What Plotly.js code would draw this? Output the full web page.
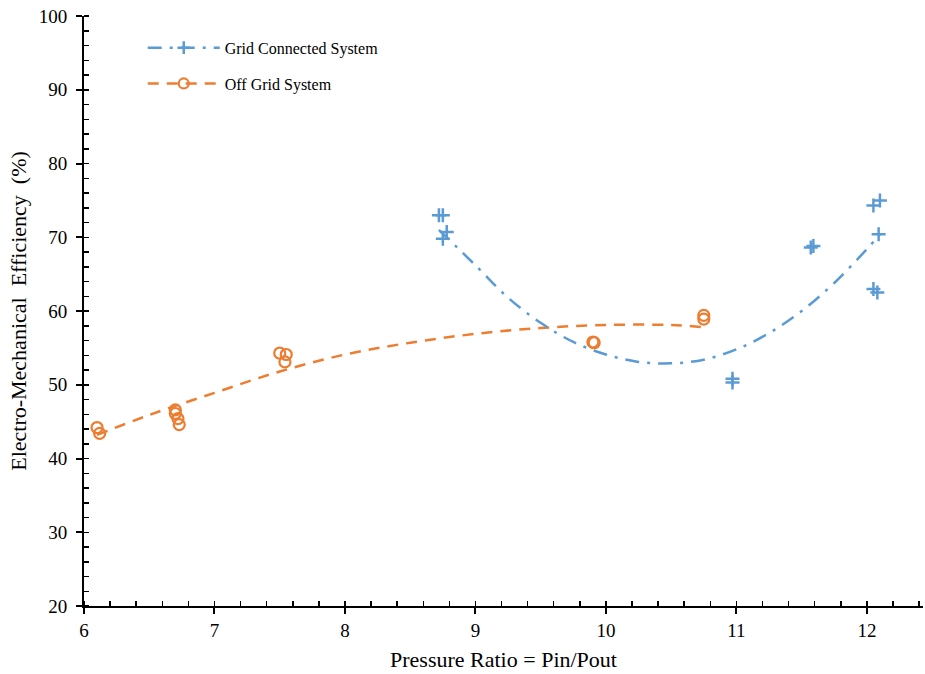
<!DOCTYPE html>
<html>
<head>
<meta charset="utf-8">
<script src="https://cdn.plot.ly/plotly-3.0.1.min.js"></script>
<style>html,body{margin:0;padding:0;background:#fff;}#chart{width:925px;height:674px;}</style>
</head>
<body>
<div id="chart"></div>
<script>
// Grid connected system: measured points
var gridX = [8.72, 8.75, 8.75, 8.78, 10.97, 10.97, 11.57, 11.59, 12.05, 12.10, 12.09, 12.05, 12.08];
var gridY = [73.0, 73.0, 69.8, 70.7, 50.8, 50.3, 68.6, 68.8, 74.3, 75.0, 70.4, 63.0, 62.5];
// Grid connected system: trend line
var gridFitX = [8.72, 9.0, 9.25, 9.5, 9.75, 10.0, 10.25, 10.5, 10.75, 11.0, 11.25, 11.5, 11.75, 12.0, 12.1];
var gridFitY = [71.0, 66.2, 61.8, 58.4, 55.8, 54.1, 53.1, 52.9, 53.4, 54.8, 57.0, 60.0, 63.8, 68.4, 70.4];

// Off grid system: measured points
var offX = [6.10, 6.12, 6.70, 6.70, 6.72, 6.73, 7.50, 7.55, 7.54, 9.90, 9.91, 10.75, 10.75];
var offY = [44.2, 43.4, 46.6, 46.1, 45.4, 44.6, 54.3, 54.1, 53.1, 55.8, 55.7, 59.4, 58.9];
// Off grid system: trend line
var offFitX = [6.1, 6.5, 7.0, 7.5, 8.0, 8.5, 9.0, 9.5, 10.0, 10.5, 10.75];
var offFitY = [43.2, 45.9, 48.9, 51.8, 54.1, 55.7, 56.9, 57.7, 58.1, 58.1, 57.8];

var seriesNames = ['Grid Connected System', 'Off Grid System'];
var xTicks = [6, 7, 8, 9, 10, 11, 12];
var yTicks = [20, 30, 40, 50, 60, 70, 80, 90, 100];

var blue = '#5b9bd5', orange = '#ed7d31';

var traces = [
  {x: offFitX, y: offFitY, mode: 'lines', line: {color: orange, width: 2.5, dash: '11px,8px', shape: 'spline'}, showlegend: false, hoverinfo: 'skip'},
  {x: gridFitX, y: gridFitY, mode: 'lines', line: {color: blue, width: 2.5, dash: '14px,8px,3px,8px', shape: 'spline'}, showlegend: false, hoverinfo: 'skip'},
  {x: gridX, y: gridY, mode: 'markers', marker: {symbol: 'cross-thin', size: 10, color: blue, line: {color: blue, width: 2.5}}, showlegend: false},
  {x: offX, y: offY, mode: 'markers', marker: {symbol: 'circle-open', size: 11, color: orange, line: {color: orange, width: 2.2}}, showlegend: false},
  {x: [null], y: [null], mode: 'lines+markers', name: seriesNames[0], legendgroup: 'g', line: {color: blue, width: 2.5, dash: '14px,8px,3px,8px'}, marker: {symbol: 'cross-thin', size: 9, color: blue, line: {color: blue, width: 2.5}}},
  {x: [null], y: [null], mode: 'lines+markers', name: seriesNames[1], legendgroup: 'o', line: {color: orange, width: 2.5, dash: '11px,8px'}, marker: {symbol: 'circle-open', size: 10, color: orange, line: {color: orange, width: 2.2}}}
];

var font = {family: '"Liberation Serif", "Times New Roman", serif', color: '#000'};

var layout = {
  width: 925, height: 674,
  margin: {l: 84, r: 2, t: 16, b: 68},
  paper_bgcolor: '#fff', plot_bgcolor: '#fff',
  font: Object.assign({size: 19}, font),
  showlegend: true,
  legend: {x: 0.07, y: 0.975, xanchor: 'left', yanchor: 'top', bgcolor: 'rgba(0,0,0,0)', itemwidth: 72,
           font: Object.assign({size: 16}, font), traceorder: 'grouped', tracegroupgap: 12},
  xaxis: {
    range: [6, 12.43], tickvals: xTicks, ticktext: xTicks.map(String),
    showgrid: false, zeroline: false, showline: true, linecolor: '#000', linewidth: 2,
    ticks: 'outside', ticklen: 6, tickwidth: 2, tickcolor: '#000',
    tickfont: Object.assign({size: 19}, font),
    minor: {dtick: 0.2, ticks: 'inside', ticklen: 5, tickwidth: 1.5, tickcolor: '#000', showgrid: false},
    title: {text: 'Pressure Ratio = Pin/Pout', font: Object.assign({size: 22}, font), standoff: 12}
  },
  yaxis: {
    range: [20, 100], tickvals: yTicks, ticktext: yTicks.map(String),
    showgrid: false, zeroline: false, showline: true, linecolor: '#000', linewidth: 2,
    ticks: 'outside', ticklen: 6, tickwidth: 2, tickcolor: '#000', ticklabelstandoff: 5,
    tickfont: Object.assign({size: 19}, font),
    minor: {dtick: 2, ticks: 'inside', ticklen: 5, tickwidth: 1.5, tickcolor: '#000', showgrid: false},
    title: {text: 'Electro-Mechanical  Efficiency  (%)', font: Object.assign({size: 22}, font), standoff: 6}
  }
};

Plotly.newPlot('chart', traces, layout, {displayModeBar: false, staticPlot: true});
</script>
</body>
</html>
